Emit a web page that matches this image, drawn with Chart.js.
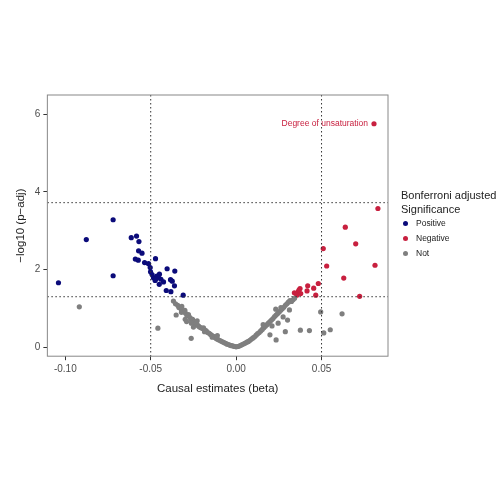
<!DOCTYPE html>
<html><head>
<script src="https://cdn.jsdelivr.net/npm/chart.js@4"></script>
<style>
body{margin:0;background:#fff;font-family:"Liberation Sans",Arial,sans-serif}
#wrap{position:relative;width:500px;height:500px}
#leg{position:absolute;left:401px;top:188px;font-size:11px;color:#222;line-height:14px;white-space:nowrap}
#leg .it{font-size:8.5px;margin-left:2px;line-height:15px}
#leg .d{display:inline-block;width:5px;height:5px;border-radius:50%;margin-right:8px;vertical-align:middle}
</style></head>
<body><div id="wrap"><canvas id="c" width="500" height="500"></canvas>
<div id="leg">Bonferroni adjusted<br>Significance<br>
<div class="it"><span class="d" style="background:#0b0b7a"></span>Positive</div>
<div class="it"><span class="d" style="background:#c8203f"></span>Negative</div>
<div class="it"><span class="d" style="background:#7f7f7f"></span>Not</div></div>
</div>
<script>
const xTicks = [-0.10, -0.05, 0.00, 0.05];
const yTicks = [0, 2, 4, 6];
const posX = [-0.104,-0.0877,-0.072,-0.072,-0.0614,-0.0583,-0.0569,-0.0571,-0.0551,-0.059,-0.0573,-0.0536,-0.0513,-0.0503,-0.0472,-0.0501,-0.0484,-0.0464,-0.0449,-0.0474,-0.044,-0.045,-0.0425,-0.0404,-0.0384,-0.0374,-0.0359,-0.0361,-0.0409,-0.0382,-0.031,-0.0455,-0.0468,-0.0492];
const posY = [1.66,2.77,3.28,1.84,2.82,2.86,2.72,2.48,2.42,2.27,2.24,2.18,2.15,2.05,2.28,1.94,1.79,1.83,1.88,1.72,1.75,1.62,1.68,2.02,1.74,1.70,1.96,1.58,1.46,1.43,1.34,1.80,1.76,1.87];
const negX = [0.0807,0.083,0.0639,0.070,0.051,0.0813,0.053,0.063,0.0723,0.0466,0.0481,0.0454,0.0419,0.0415,0.0374,0.0364,0.0341,0.0378,0.0355,0.0368];
const negY = [5.75,3.57,3.09,2.66,2.54,2.11,2.09,1.78,1.31,1.34,1.64,1.52,1.58,1.45,1.51,1.43,1.40,1.38,1.34,1.47];
const notX = [-0.0918,-0.0458,-0.0263,-0.0298,-0.0351,-0.0367,-0.0355,-0.0342,-0.0335,-0.0321,-0.0318,-0.0305,-0.0297,-0.0288,-0.0279,-0.0270,-0.0262,-0.0255,-0.0246,-0.0238,-0.0229,-0.0221,-0.0214,-0.0205,-0.0196,-0.0191,-0.0183,-0.0175,-0.0166,-0.0158,-0.0150,-0.0141,-0.0133,-0.0124,-0.0115,-0.0106,-0.0098,-0.0089,-0.0080,-0.0071,-0.0062,-0.0053,-0.0044,-0.0035,-0.0026,-0.0017,-0.0008,0.0000,0.0009,0.0018,0.0027,0.0036,0.0045,0.0054,0.0063,0.0072,0.0081,0.0090,0.0099,0.0108,0.0117,0.0126,0.0135,0.0144,0.0153,0.0162,0.0171,0.0180,0.0189,0.0198,0.0207,0.0216,0.0225,0.0234,0.0243,0.0252,0.0261,0.0270,0.0279,0.0288,0.0297,0.0306,0.0315,0.0324,0.0333,0.0342,0.0210,0.0246,0.0288,0.0234,0.0495,0.062,0.0513,0.0551,0.0429,0.0376,0.0275,0.0312,0.0198,0.0158,-0.0320,-0.0290,-0.0250,-0.0185,-0.0140,-0.0110,0.0232,0.0262,0.0301,-0.0228,-0.0262,-0.0300];
const notY = [1.04,0.49,0.23,0.72,0.83,1.19,1.12,1.08,1.02,0.98,1.05,0.92,0.88,0.82,0.84,0.76,0.70,0.72,0.64,0.60,0.58,0.55,0.52,0.50,0.48,0.50,0.44,0.42,0.38,0.36,0.33,0.30,0.28,0.25,0.22,0.20,0.18,0.16,0.14,0.12,0.10,0.08,0.07,0.05,0.04,0.03,0.02,0.01,0.02,0.03,0.05,0.07,0.09,0.11,0.13,0.15,0.18,0.21,0.24,0.27,0.31,0.35,0.38,0.42,0.46,0.50,0.54,0.58,0.62,0.66,0.70,0.74,0.79,0.83,0.87,0.91,0.95,0.99,1.03,1.08,1.12,1.16,1.20,1.18,1.22,1.26,0.55,0.62,0.40,0.19,0.91,0.86,0.37,0.45,0.43,0.44,0.78,0.96,0.32,0.58,0.90,0.66,0.52,0.40,0.26,0.30,0.98,1.02,0.70,0.68,0.62,0.95];
const toPts = (xs, ys) => xs.map((x, i) => ({x: x, y: ys[i]}));

const refLines = {
  id: 'refLines',
  afterDatasetsDraw(chart) {
    const {ctx, chartArea: a, scales: {x, y}} = chart;
    ctx.save();
    ctx.strokeStyle = '#333'; ctx.lineWidth = 1; ctx.setLineDash([1.5, 2.5]);
    [-0.05, 0.05].forEach(v => { const p = x.getPixelForValue(v); ctx.beginPath(); ctx.moveTo(p, a.top); ctx.lineTo(p, a.bottom); ctx.stroke(); });
    [3.72, 1.3].forEach(v => { const p = y.getPixelForValue(v); ctx.beginPath(); ctx.moveTo(a.left, p); ctx.lineTo(a.right, p); ctx.stroke(); });
    ctx.setLineDash([]);
    ctx.fillStyle = '#c8203f'; ctx.font = '8.5px "Liberation Sans"'; ctx.textAlign = 'right'; ctx.textBaseline = 'middle';
    ctx.fillText('Degree of unsaturation', x.getPixelForValue(negX[0]) - 6, y.getPixelForValue(negY[0]));
    ctx.strokeStyle = '#888'; ctx.strokeRect(a.left, a.top, a.right - a.left, a.bottom - a.top);
    ctx.restore();
  }
};

new Chart(document.getElementById('c'), {
  type: 'scatter',
  data: { datasets: [
    { label: 'Not', data: toPts(notX, notY), backgroundColor: '#7f7f7f', borderWidth: 0, pointRadius: 2.6 },
    { label: 'Negative', data: toPts(negX, negY), backgroundColor: '#c8203f', borderWidth: 0, pointRadius: 2.6 },
    { label: 'Positive', data: toPts(posX, posY), backgroundColor: '#0b0b7a', borderWidth: 0, pointRadius: 2.6 }
  ]},
  options: {
    responsive: false, animation: false,
    layout: { padding: { top: 95, right: 112, bottom: 100, left: 10 } },
    plugins: { legend: { display: false }, tooltip: { enabled: false } },
    scales: {
      x: {
        min: -0.1105, max: 0.0889,
        afterBuildTicks: s => { s.ticks = xTicks.map(v => ({value: v})); },
        grid: { drawOnChartArea: false, tickLength: 4, color: '#333' },
        border: { display: false },
        ticks: { color: '#4d4d4d', font: { size: 10 }, callback: v => v.toFixed(2) },
        title: { display: true, text: 'Causal estimates (beta)', color: '#222', font: { size: 11.5 } }
      },
      y: {
        min: -0.23, max: 6.49,
        afterBuildTicks: s => { s.ticks = yTicks.map(v => ({value: v})); },
        grid: { drawOnChartArea: false, tickLength: 4, color: '#333' },
        border: { display: false },
        ticks: { color: '#4d4d4d', font: { size: 10 } },
        title: { display: true, text: '\u2212log10 (p\u2212adj)', color: '#222', font: { size: 11.5 } }
      }
    }
  },
  plugins: [refLines]
});
</script></body></html>
